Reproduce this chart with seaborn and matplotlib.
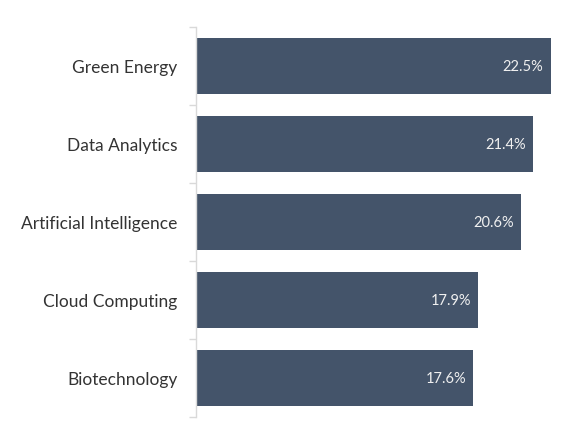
import seaborn as sns
import matplotlib.pyplot as plt
import pandas as pd
from matplotlib.ticker import FixedLocator

sns.set_theme(style="white")
plt.rcParams['font.family'] = ['Lato', 'DejaVu Sans']

# Chart data
sectors = ["Green Energy", "Data Analytics", "Artificial Intelligence",
           "Cloud Computing", "Biotechnology"]
growth = [22.5, 21.4, 20.6, 17.9, 17.6]

df = pd.DataFrame({"Sector": sectors, "Growth": growth})

fig = plt.figure(figsize=(5.8, 4.35), dpi=100)
ax = fig.add_axes([195.5 / 580, 17 / 435, 363 / 580, 390 / 435])

sns.barplot(data=df, x="Growth", y="Sector", color="#44546a",
            saturation=1, width=0.71, edgecolor="none", ax=ax)

# Value labels inside the bar ends
for i, v in enumerate(df["Growth"]):
    ax.text(v - 0.45, i, f"{v}%", ha="right", va="center",
            color="#f0f0f0", fontsize=10.5)

ax.set_xlim(0, 23)
ax.set_ylim(len(sectors) - 0.5, -0.5)
ax.set_xlabel("")
ax.set_ylabel("")
ax.set_xticks([])

for side in ["top", "right", "bottom"]:
    ax.spines[side].set_visible(False)
ax.spines["left"].set_color("#d9d9d9")
ax.spines["left"].set_linewidth(1)

# Category ticks sit between the bars
ax.yaxis.set_minor_locator(FixedLocator([i - 0.5 for i in range(len(sectors) + 1)]))
ax.tick_params(axis="y", which="minor", left=True, length=5, width=1,
               color="#d9d9d9")
ax.tick_params(axis="y", which="major", left=False, length=0, pad=13,
               labelsize=12.5, labelcolor="#333333")

plt.savefig("out.png", dpi=100)
